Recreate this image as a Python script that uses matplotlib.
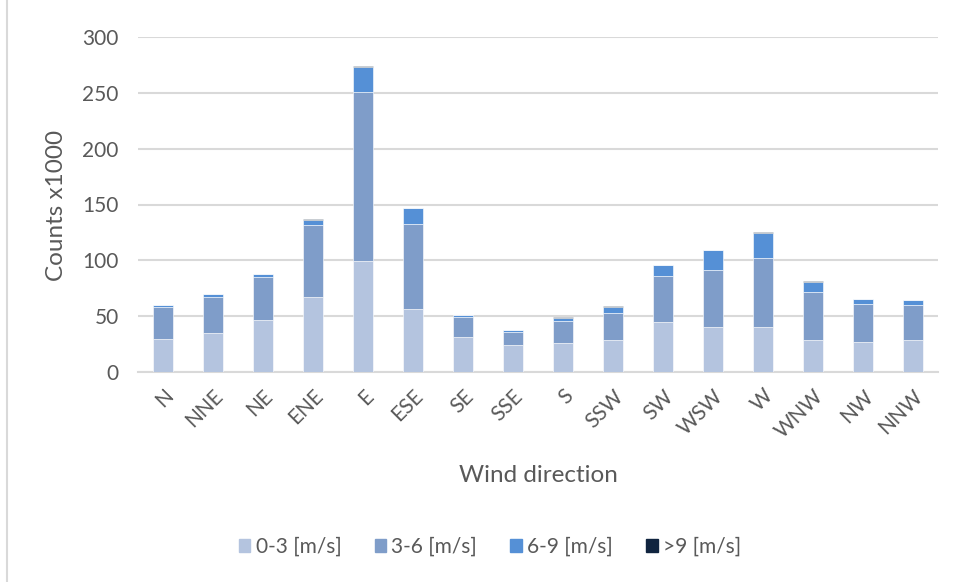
import numpy as np
import matplotlib
matplotlib.use("Agg")
import matplotlib.pyplot as plt
from matplotlib.lines import Line2D

plt.rcParams['font.family'] = ['Lato', 'DejaVu Sans']

directions = ["N", "NNE", "NE", "ENE", "E", "ESE", "SE", "SSE",
              "S", "SSW", "SW", "WSW", "W", "WNW", "NW", "NNW"]
speed_labels = ["0-3 [m/s]", "3-6 [m/s]", "6-9 [m/s]", ">9 [m/s]"]

# counts x1000 per speed class
s0_3 = [30, 35, 46.6, 67.5, 99.4, 56.4, 31.6, 23.9,
        26, 29, 45.1, 40.6, 40.6, 29, 27.2, 28.4]
s3_6 = [27.9, 32.3, 38.8, 64.4, 151.3, 76.1, 17.4, 12.2,
        20, 23.8, 40.9, 51, 61.8, 42.6, 33.7, 31.6]
s6_9 = [2.1, 2.4, 2.1, 4.5, 22.7, 14.0, 2.0, 1.5,
        2.7, 5.7, 9.8, 17.4, 22.4, 9.0, 4.2, 4.2]
s9_up = [0.3, 0.2, 0.2, 0.2, 0.4, 0.5, 0.2, 0.2,
         0.2, 0.3, 0.3, 0.3, 0.8, 0.5, 0.3, 0.6]

colors = ["#B4C4DF", "#7F9DC9", "#5590D6", "#10243F"]
text_col = "#595959"

fig = plt.figure(figsize=(9.57, 5.82), dpi=100)
ax = fig.add_axes([138 / 957, 1 - 372 / 582, 800 / 957, 335 / 582])

x = np.arange(len(directions))
bottom = np.zeros(len(directions))
for vals, col, lab in zip([s0_3, s3_6, s6_9, s9_up], colors, speed_labels):
    ax.bar(x, vals, 0.4, bottom=bottom, color=col, label=lab,
           edgecolor="white", linewidth=0.4, zorder=3)
    bottom += np.array(vals)

ax.set_xlim(-0.5, len(directions) - 0.5)
ax.set_ylim(0, 300)
ax.set_yticks(range(0, 301, 50))
ax.grid(axis="y", color="#D9D9D9", linewidth=1.5, zorder=0)
for s in ["top", "right", "left"]:
    ax.spines[s].set_visible(False)
ax.spines["bottom"].set_color("#D9D9D9")
ax.spines["bottom"].set_linewidth(1.5)
ax.tick_params(length=0, colors=text_col, labelsize=15)
ax.tick_params(axis="y", pad=14)
ax.set_xticks(x)
ax.set_xticklabels(directions, rotation=45, ha="right", va="top",
                   rotation_mode="anchor")
ax.tick_params(axis="x", pad=10)

fig.text(57 / 957, 1 - 205 / 582, "Counts x1000", rotation=90, ha="center",
         va="center", color=text_col, fontsize=17.5)
fig.text(538 / 957, 1 - 475 / 582, "Wind direction", ha="center",
         va="center", color=text_col, fontsize=17.5)

handles = [plt.Rectangle((0, 0), 1, 1, color=c) for c in colors]
fig.legend(handles, speed_labels, loc="center", ncol=4,
           bbox_to_anchor=(490 / 957, 1 - 547 / 582), frameon=False,
           handlelength=0.55, handleheight=0.55, handletextpad=0.25,
           columnspacing=1.6, fontsize=15, labelcolor=text_col)

# chart border on the left edge
fig.add_artist(Line2D([7 / 957, 7 / 957], [0, 1], color="#D9D9D9",
                      linewidth=1.5, transform=fig.transFigure))

fig.savefig("out.png", dpi=100)
